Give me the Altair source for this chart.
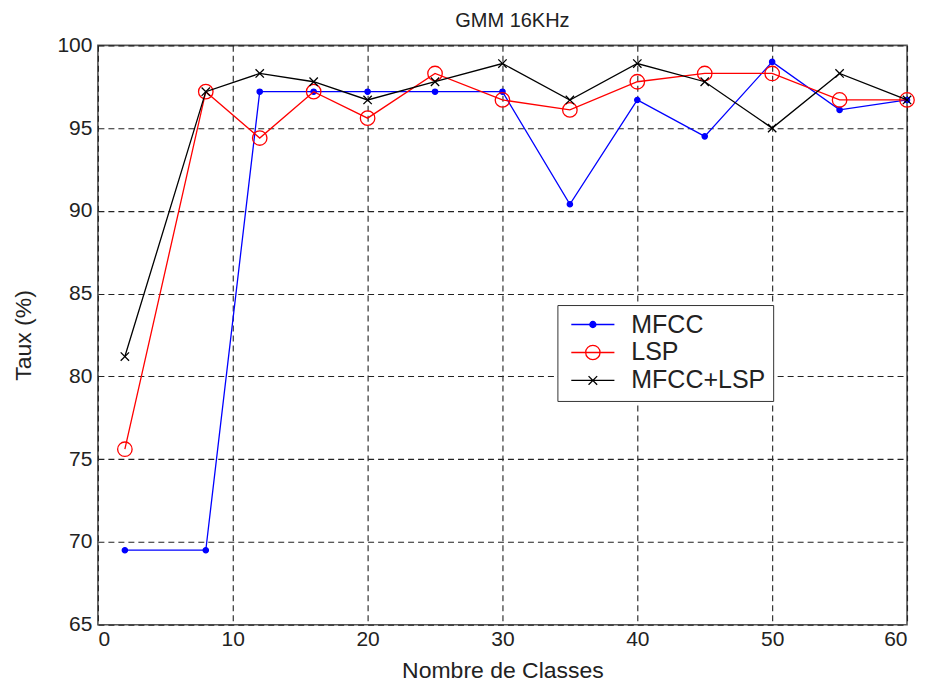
import altair as alt
import pandas as pd

classes = [2, 8, 12, 16, 20, 25, 30, 35, 40, 45, 50, 55, 60]
mfcc = [69.5, 69.5, 97.2, 97.2, 97.2, 97.2, 97.2, 90.4, 96.7, 94.5, 99.0, 96.1, 96.7]
lsp = [75.6, 97.2, 94.4, 97.2, 95.6, 98.3, 96.7, 96.1, 97.8, 98.3, 98.3, 96.7, 96.7]
mfcc_lsp = [81.2, 97.2, 98.3, 97.8, 96.7, 97.8, 98.9, 96.7, 98.9, 97.8, 95.0, 98.3, 96.7]

names = ["MFCC", "LSP", "MFCC+LSP"]
colors = ["#0000ff", "#ff0000", "#000000"]
x_ticks = [0, 10, 20, 30, 40, 50, 60]
y_ticks = [65, 70, 75, 80, 85, 90, 95, 100]

rows = []
for name, vals in zip(names, [mfcc, lsp, mfcc_lsp]):
    for i, (c, v) in enumerate(zip(classes, vals)):
        rows.append({"classes": c, "taux": v, "series": name, "order": i})
df = pd.DataFrame(rows)

FONT = "Liberation Sans"
XPATH = "M-1,-1L1,1M-1,1L1,-1"

# legend symbols: line segment with the marker on it
leg_mfcc = "M-3,0L3,0M0.42,0A0.42,0.42 0 1,1 -0.42,0A0.42,0.42 0 1,1 0.42,0Z"
leg_lsp = "M-3,0L3,0M1,0A1,1 0 1,1 -1,0A1,1 0 1,1 1,0Z"
leg_both = "M-3,0L3,0M-0.6,-0.6L0.6,0.6M-0.6,0.6L0.6,-0.6"

x_enc = alt.X(
    "classes:Q",
    scale=alt.Scale(domain=[0, 60], nice=False, zero=False),
    axis=alt.Axis(values=x_ticks, title="Nombre de Classes", labelPadding=4, titlePadding=10),
)
y_enc = alt.Y(
    "taux:Q",
    scale=alt.Scale(domain=[65, 100], nice=False, zero=False),
    axis=alt.Axis(values=y_ticks, title="Taux (%)", labelPadding=6, titlePadding=21),
)

base = alt.Chart(df)

marker_specs = {
    "MFCC": dict(shape="circle", size=28, fill="#0000ff"),
    "LSP": dict(shape="circle", size=210, fill="transparent"),
    "MFCC+LSP": dict(shape=XPATH, size=70, fill="transparent"),
}

layers = []
for name, col in zip(names, colors):
    sub = base.transform_filter(alt.datum.series == name)
    layers.append(
        sub.mark_line(color=col, strokeWidth=1.3).encode(x=x_enc, y=y_enc, order="order:Q")
    )
    spec = marker_specs[name]
    layers.append(
        sub.mark_point(
            filled=False, color=col, stroke=col, strokeWidth=1.3, opacity=1,
            shape=spec["shape"], size=spec["size"], fill=spec["fill"],
        ).encode(x=x_enc, y=y_enc)
    )

legend_layer = base.mark_point(filled=False, opacity=0, size=207).encode(
    x=x_enc,
    y=y_enc,
    color=alt.Color(
        "series:N",
        scale=alt.Scale(domain=names, range=colors),
        legend=alt.Legend(
            title=None,
            orient="none",
            legendX=460,
            legendY=260,
            fillColor="white",
            strokeColor="#333333",
            padding=7,
            labelFont=FONT,
            labelFontSize=25,
            labelColor="#222222",
            symbolSize=207,
            symbolStrokeWidth=1.3,
            symbolOpacity=1,
            symbolOffset=16,
            labelOffset=26,
            rowPadding=2,
        ),
    ),
    shape=alt.Shape("series:N", scale=alt.Scale(domain=names, range=[leg_mfcc, leg_lsp, leg_both])),
    fill=alt.Fill("series:N", scale=alt.Scale(domain=names, range=["#0000ff", "transparent", "transparent"])),
)
layers.append(legend_layer)

chart = (
    alt.layer(*layers)
    .properties(
        width=810,
        height=580,
        autosize=alt.AutoSizeParams(type="none"),
        padding={"left": 90, "top": 37, "right": 10, "bottom": 58},
        title=alt.TitleParams(
            "GMM 16KHz", font=FONT, fontSize=20, fontWeight="normal",
            color="#222222", anchor="middle", offset=3, dx=10,
        ),
        background="white",
    )
    .configure_view(stroke="#555555", strokeWidth=1.6)
    .configure_axis(
        domain=False,
        ticks=False,
        grid=True,
        gridColor="#222222",
        gridDash=[6, 4],
        gridWidth=1.1,
        gridOpacity=1,
        labelFont=FONT,
        labelFontSize=21,
        labelColor="#222222",
        titleFont=FONT,
        titleFontSize=23,
        titleFontWeight="normal",
        titleColor="#222222",
    )
)

chart.save("out.html", embed_options={"renderer": "svg", "actions": False})
